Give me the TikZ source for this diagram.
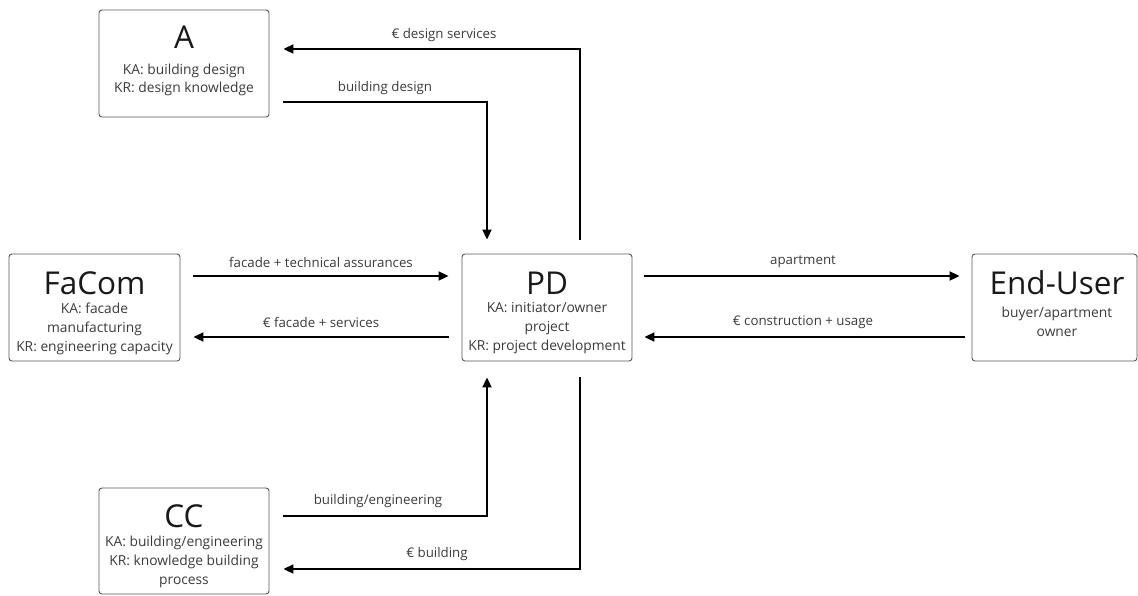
\documentclass[tikz,border=0pt]{standalone}
\usepackage{fontspec}
\setmainfont{Open Sans}
\usetikzlibrary{arrows.meta,calc}
\definecolor{boxline}{HTML}{555555}
\definecolor{txt}{HTML}{3A3A3A}
\tikzset{
  box/.style={draw=boxline,line width=0.9pt,rounded corners=3pt,minimum width=170pt,minimum height=107pt,inner sep=0pt},
  ttl/.style={font=\fontsize{31.5}{34}\selectfont,text=black!90,inner sep=0pt},
  body/.style={font=\fontsize{13.8}{18.8}\selectfont,text=txt,align=center,inner sep=0pt},
  lbl/.style={font=\fontsize{13.3}{15}\selectfont,text=txt,inner sep=0pt},
  arr/.style={line width=2pt,-{Triangle[length=10pt,width=9pt]}}
}
\begin{document}
\begin{tikzpicture}[x=1pt,y=-1pt]
\useasboundingbox (0,0) rectangle (1138,595);
% boxes
\node[box] (A) at (184,63.5) {};
\node[box,minimum width=171pt] (FaCom) at (94.5,307.5) {};
\node[box] (PD) at (547,307.5) {};
\node[box,minimum width=165pt] (EU) at (1054.5,307.5) {};
\node[box,minimum height=106pt] (CC) at (184,541) {};
% texts
\node[ttl] (At) at (184,37) {A};
\node[body] (Ab) at (184,80) {KA: building design\\KR: design knowledge};
\node[ttl] (Ft) at (94.5,283) {FaCom};
\node[body] (Fb) at (94.5,329) {KA: facade\\manufacturing\\KR: engineering capacity};
\node[ttl] (Pt) at (547,283) {PD};
\node[body] (Pb) at (547,328) {KA: initiator/owner\\project\\KR: project development};
\node[ttl] (Et) at (1057,283) {End-User};
\node[body] (Eb) at (1057,321.5) {buyer/apartment\\owner};
\node[ttl] (Ct) at (184,516) {CC};
\node[body] (Cb) at (184,562) {KA: building/engineering\\KR: knowledge building\\process};
% connectors
\draw[arr] ([xshift=13pt,yshift=31.5pt]FaCom.east) -- ([xshift=-13pt,yshift=31.5pt]PD.west);
\draw[arr] ([xshift=-13pt,yshift=-29.5pt]PD.west) -- ([xshift=13pt,yshift=-29.5pt]FaCom.east);
\draw[arr] ([xshift=12pt,yshift=31.5pt]PD.east) -- ([xshift=-12pt,yshift=31.5pt]EU.west);
\draw[arr] ([xshift=-7pt,yshift=-29.5pt]EU.west) -- ([xshift=12pt,yshift=-29.5pt]PD.east);
\draw[arr] ([xshift=14pt,yshift=-38.5pt]A.east) -| ([xshift=-60pt,yshift=14pt]PD.north);
\draw[arr] ([xshift=33pt,yshift=14pt]PD.north) |- ([xshift=14pt,yshift=14.5pt]A.east);
\draw[arr] ([xshift=14pt,yshift=25pt]CC.east) -| ([xshift=-60pt,yshift=-16pt]PD.south);
\draw[arr] ([xshift=33pt,yshift=-16pt]PD.south) |- ([xshift=14pt,yshift=-28pt]CC.east);
% labels
\node[lbl] (l1) at (444,35) {€ design services};
\node[lbl] (l2) at (385,88) {building design};
\node[lbl] (l3) at (321,262) {facade + technical assurances};
\node[lbl] (l4) at (321,322) {€ facade + services};
\node[lbl] (l5) at (803,262) {apartment};
\node[lbl] (l6) at (803,322) {€ construction + usage};
\node[lbl] (l7) at (378,501) {building/engineering};
\node[lbl] (l8) at (437,554) {€ building};
\end{tikzpicture}
\end{document}
